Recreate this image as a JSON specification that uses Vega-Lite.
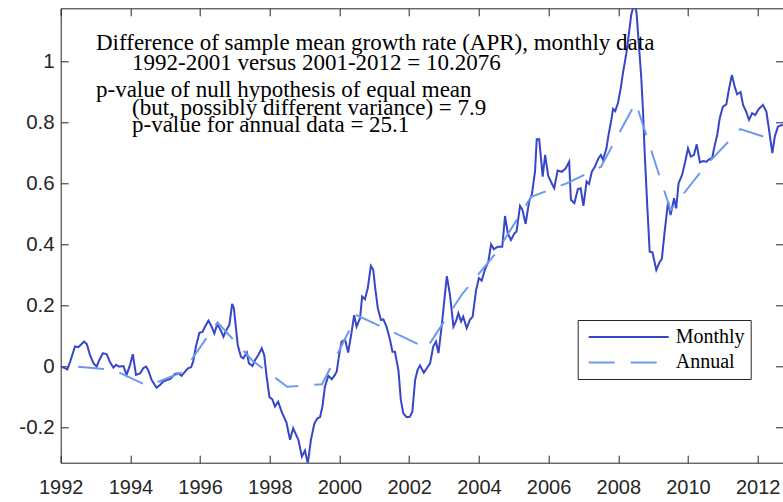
{
  "$schema": "https://vega.github.io/schema/vega-lite/v6.json",
  "width": 722.3,
  "height": 454.4,
  "autosize": {"type": "none"},
  "padding": {"left": 60.7, "top": 8.3, "right": 0, "bottom": 39.3},
  "background": "white",
  "config": {
    "view": {"stroke": null},
    "axis": {
      "grid": false,
      "title": null,
      "domainColor": "#262626",
      "tickColor": "#262626",
      "labelColor": "#262626",
      "labelFont": "Liberation Sans, Arial, sans-serif",
      "labelFontSize": 20,
      "labelFlush": false,
      "tickSize": -7.5,
      "domainWidth": 1,
      "tickWidth": 1
    }
  },
  "resolve": {"axis": {"x": "independent", "y": "independent"}},
  "layer": [
    {
      "data": {
        "values": [
          {"series": "Monthly", "year": 1992.00, "value": 0.000},
          {"series": "Monthly", "year": 1992.12, "value": -0.005},
          {"series": "Monthly", "year": 1992.19, "value": -0.009},
          {"series": "Monthly", "year": 1992.27, "value": 0.016},
          {"series": "Monthly", "year": 1992.41, "value": 0.066},
          {"series": "Monthly", "year": 1992.51, "value": 0.064},
          {"series": "Monthly", "year": 1992.57, "value": 0.071},
          {"series": "Monthly", "year": 1992.67, "value": 0.082},
          {"series": "Monthly", "year": 1992.75, "value": 0.074},
          {"series": "Monthly", "year": 1992.84, "value": 0.038},
          {"series": "Monthly", "year": 1992.94, "value": 0.011},
          {"series": "Monthly", "year": 1993.03, "value": 0.000},
          {"series": "Monthly", "year": 1993.11, "value": 0.022},
          {"series": "Monthly", "year": 1993.21, "value": 0.044},
          {"series": "Monthly", "year": 1993.32, "value": 0.041},
          {"series": "Monthly", "year": 1993.41, "value": 0.016},
          {"series": "Monthly", "year": 1993.51, "value": -0.003},
          {"series": "Monthly", "year": 1993.59, "value": 0.006},
          {"series": "Monthly", "year": 1993.68, "value": 0.000},
          {"series": "Monthly", "year": 1993.80, "value": 0.002},
          {"series": "Monthly", "year": 1993.89, "value": -0.027},
          {"series": "Monthly", "year": 1993.99, "value": 0.006},
          {"series": "Monthly", "year": 1994.07, "value": 0.041},
          {"series": "Monthly", "year": 1994.16, "value": -0.027},
          {"series": "Monthly", "year": 1994.28, "value": -0.022},
          {"series": "Monthly", "year": 1994.37, "value": -0.005},
          {"series": "Monthly", "year": 1994.45, "value": 0.000},
          {"series": "Monthly", "year": 1994.51, "value": -0.011},
          {"series": "Monthly", "year": 1994.61, "value": -0.044},
          {"series": "Monthly", "year": 1994.75, "value": -0.069},
          {"series": "Monthly", "year": 1994.85, "value": -0.060},
          {"series": "Monthly", "year": 1994.94, "value": -0.049},
          {"series": "Monthly", "year": 1995.04, "value": -0.044},
          {"series": "Monthly", "year": 1995.14, "value": -0.041},
          {"series": "Monthly", "year": 1995.28, "value": -0.024},
          {"series": "Monthly", "year": 1995.37, "value": -0.022},
          {"series": "Monthly", "year": 1995.47, "value": -0.030},
          {"series": "Monthly", "year": 1995.57, "value": -0.016},
          {"series": "Monthly", "year": 1995.66, "value": -0.005},
          {"series": "Monthly", "year": 1995.74, "value": -0.002},
          {"series": "Monthly", "year": 1995.80, "value": 0.016},
          {"series": "Monthly", "year": 1995.88, "value": 0.066},
          {"series": "Monthly", "year": 1995.98, "value": 0.111},
          {"series": "Monthly", "year": 1996.07, "value": 0.114},
          {"series": "Monthly", "year": 1996.14, "value": 0.131},
          {"series": "Monthly", "year": 1996.24, "value": 0.151},
          {"series": "Monthly", "year": 1996.33, "value": 0.131},
          {"series": "Monthly", "year": 1996.41, "value": 0.109},
          {"series": "Monthly", "year": 1996.49, "value": 0.139},
          {"series": "Monthly", "year": 1996.59, "value": 0.120},
          {"series": "Monthly", "year": 1996.67, "value": 0.098},
          {"series": "Monthly", "year": 1996.73, "value": 0.115},
          {"series": "Monthly", "year": 1996.84, "value": 0.137},
          {"series": "Monthly", "year": 1996.92, "value": 0.206},
          {"series": "Monthly", "year": 1996.97, "value": 0.191},
          {"series": "Monthly", "year": 1997.08, "value": 0.071},
          {"series": "Monthly", "year": 1997.17, "value": 0.033},
          {"series": "Monthly", "year": 1997.24, "value": 0.027},
          {"series": "Monthly", "year": 1997.34, "value": 0.046},
          {"series": "Monthly", "year": 1997.40, "value": 0.011},
          {"series": "Monthly", "year": 1997.50, "value": 0.002},
          {"series": "Monthly", "year": 1997.58, "value": 0.022},
          {"series": "Monthly", "year": 1997.67, "value": 0.038},
          {"series": "Monthly", "year": 1997.77, "value": 0.060},
          {"series": "Monthly", "year": 1997.84, "value": 0.038},
          {"series": "Monthly", "year": 1997.91, "value": -0.033},
          {"series": "Monthly", "year": 1997.99, "value": -0.100},
          {"series": "Monthly", "year": 1998.07, "value": -0.107},
          {"series": "Monthly", "year": 1998.15, "value": -0.131},
          {"series": "Monthly", "year": 1998.24, "value": -0.115},
          {"series": "Monthly", "year": 1998.34, "value": -0.148},
          {"series": "Monthly", "year": 1998.48, "value": -0.184},
          {"series": "Monthly", "year": 1998.58, "value": -0.240},
          {"series": "Monthly", "year": 1998.67, "value": -0.202},
          {"series": "Monthly", "year": 1998.82, "value": -0.240},
          {"series": "Monthly", "year": 1998.92, "value": -0.295},
          {"series": "Monthly", "year": 1999.01, "value": -0.275},
          {"series": "Monthly", "year": 1999.09, "value": -0.318},
          {"series": "Monthly", "year": 1999.18, "value": -0.240},
          {"series": "Monthly", "year": 1999.28, "value": -0.186},
          {"series": "Monthly", "year": 1999.37, "value": -0.169},
          {"series": "Monthly", "year": 1999.44, "value": -0.166},
          {"series": "Monthly", "year": 1999.51, "value": -0.131},
          {"series": "Monthly", "year": 1999.58, "value": -0.066},
          {"series": "Monthly", "year": 1999.68, "value": -0.030},
          {"series": "Monthly", "year": 1999.78, "value": -0.041},
          {"series": "Monthly", "year": 1999.87, "value": -0.027},
          {"series": "Monthly", "year": 1999.92, "value": -0.016},
          {"series": "Monthly", "year": 1999.99, "value": 0.038},
          {"series": "Monthly", "year": 2000.06, "value": 0.082},
          {"series": "Monthly", "year": 2000.16, "value": 0.088},
          {"series": "Monthly", "year": 2000.25, "value": 0.046},
          {"series": "Monthly", "year": 2000.35, "value": 0.115},
          {"series": "Monthly", "year": 2000.42, "value": 0.169},
          {"series": "Monthly", "year": 2000.49, "value": 0.131},
          {"series": "Monthly", "year": 2000.59, "value": 0.159},
          {"series": "Monthly", "year": 2000.65, "value": 0.230},
          {"series": "Monthly", "year": 2000.73, "value": 0.221},
          {"series": "Monthly", "year": 2000.81, "value": 0.257},
          {"series": "Monthly", "year": 2000.90, "value": 0.330},
          {"series": "Monthly", "year": 2000.97, "value": 0.317},
          {"series": "Monthly", "year": 2001.02, "value": 0.262},
          {"series": "Monthly", "year": 2001.10, "value": 0.191},
          {"series": "Monthly", "year": 2001.19, "value": 0.153},
          {"series": "Monthly", "year": 2001.26, "value": 0.155},
          {"series": "Monthly", "year": 2001.35, "value": 0.131},
          {"series": "Monthly", "year": 2001.45, "value": 0.088},
          {"series": "Monthly", "year": 2001.52, "value": 0.049},
          {"series": "Monthly", "year": 2001.59, "value": 0.049},
          {"series": "Monthly", "year": 2001.69, "value": -0.011},
          {"series": "Monthly", "year": 2001.76, "value": -0.109},
          {"series": "Monthly", "year": 2001.83, "value": -0.153},
          {"series": "Monthly", "year": 2001.93, "value": -0.166},
          {"series": "Monthly", "year": 2002.02, "value": -0.164},
          {"series": "Monthly", "year": 2002.09, "value": -0.148},
          {"series": "Monthly", "year": 2002.17, "value": -0.044},
          {"series": "Monthly", "year": 2002.24, "value": -0.011},
          {"series": "Monthly", "year": 2002.31, "value": 0.004},
          {"series": "Monthly", "year": 2002.42, "value": -0.020},
          {"series": "Monthly", "year": 2002.60, "value": 0.011},
          {"series": "Monthly", "year": 2002.69, "value": 0.066},
          {"series": "Monthly", "year": 2002.77, "value": 0.082},
          {"series": "Monthly", "year": 2002.84, "value": 0.044},
          {"series": "Monthly", "year": 2002.93, "value": 0.131},
          {"series": "Monthly", "year": 2003.08, "value": 0.297},
          {"series": "Monthly", "year": 2003.17, "value": 0.235},
          {"series": "Monthly", "year": 2003.27, "value": 0.131},
          {"series": "Monthly", "year": 2003.34, "value": 0.148},
          {"series": "Monthly", "year": 2003.41, "value": 0.175},
          {"series": "Monthly", "year": 2003.49, "value": 0.148},
          {"series": "Monthly", "year": 2003.55, "value": 0.164},
          {"series": "Monthly", "year": 2003.65, "value": 0.126},
          {"series": "Monthly", "year": 2003.74, "value": 0.153},
          {"series": "Monthly", "year": 2003.82, "value": 0.164},
          {"series": "Monthly", "year": 2003.92, "value": 0.251},
          {"series": "Monthly", "year": 2004.00, "value": 0.290},
          {"series": "Monthly", "year": 2004.08, "value": 0.282},
          {"series": "Monthly", "year": 2004.17, "value": 0.317},
          {"series": "Monthly", "year": 2004.27, "value": 0.344},
          {"series": "Monthly", "year": 2004.35, "value": 0.401},
          {"series": "Monthly", "year": 2004.43, "value": 0.385},
          {"series": "Monthly", "year": 2004.54, "value": 0.393},
          {"series": "Monthly", "year": 2004.67, "value": 0.393},
          {"series": "Monthly", "year": 2004.75, "value": 0.494},
          {"series": "Monthly", "year": 2004.83, "value": 0.437},
          {"series": "Monthly", "year": 2004.92, "value": 0.415},
          {"series": "Monthly", "year": 2005.02, "value": 0.437},
          {"series": "Monthly", "year": 2005.08, "value": 0.443},
          {"series": "Monthly", "year": 2005.18, "value": 0.527},
          {"series": "Monthly", "year": 2005.25, "value": 0.514},
          {"series": "Monthly", "year": 2005.34, "value": 0.468},
          {"series": "Monthly", "year": 2005.44, "value": 0.541},
          {"series": "Monthly", "year": 2005.52, "value": 0.565},
          {"series": "Monthly", "year": 2005.61, "value": 0.639},
          {"series": "Monthly", "year": 2005.66, "value": 0.746},
          {"series": "Monthly", "year": 2005.73, "value": 0.746},
          {"series": "Monthly", "year": 2005.83, "value": 0.623},
          {"series": "Monthly", "year": 2005.90, "value": 0.694},
          {"series": "Monthly", "year": 2005.99, "value": 0.625},
          {"series": "Monthly", "year": 2006.09, "value": 0.601},
          {"series": "Monthly", "year": 2006.16, "value": 0.585},
          {"series": "Monthly", "year": 2006.26, "value": 0.643},
          {"series": "Monthly", "year": 2006.38, "value": 0.639},
          {"series": "Monthly", "year": 2006.49, "value": 0.650},
          {"series": "Monthly", "year": 2006.59, "value": 0.672},
          {"series": "Monthly", "year": 2006.64, "value": 0.547},
          {"series": "Monthly", "year": 2006.74, "value": 0.536},
          {"series": "Monthly", "year": 2006.84, "value": 0.582},
          {"series": "Monthly", "year": 2006.92, "value": 0.585},
          {"series": "Monthly", "year": 2007.00, "value": 0.527},
          {"series": "Monthly", "year": 2007.09, "value": 0.607},
          {"series": "Monthly", "year": 2007.16, "value": 0.599},
          {"series": "Monthly", "year": 2007.24, "value": 0.639},
          {"series": "Monthly", "year": 2007.33, "value": 0.656},
          {"series": "Monthly", "year": 2007.43, "value": 0.683},
          {"series": "Monthly", "year": 2007.50, "value": 0.694},
          {"series": "Monthly", "year": 2007.56, "value": 0.678},
          {"series": "Monthly", "year": 2007.66, "value": 0.716},
          {"series": "Monthly", "year": 2007.72, "value": 0.760},
          {"series": "Monthly", "year": 2007.80, "value": 0.809},
          {"series": "Monthly", "year": 2007.85, "value": 0.845},
          {"series": "Monthly", "year": 2007.91, "value": 0.838},
          {"series": "Monthly", "year": 2007.99, "value": 0.864},
          {"series": "Monthly", "year": 2008.07, "value": 0.913},
          {"series": "Monthly", "year": 2008.14, "value": 0.967},
          {"series": "Monthly", "year": 2008.23, "value": 1.027},
          {"series": "Monthly", "year": 2008.30, "value": 1.088},
          {"series": "Monthly", "year": 2008.37, "value": 1.153},
          {"series": "Monthly", "year": 2008.45, "value": 1.190},
          {"series": "Monthly", "year": 2008.52, "value": 1.164},
          {"series": "Monthly", "year": 2008.57, "value": 1.088},
          {"series": "Monthly", "year": 2008.66, "value": 0.946},
          {"series": "Monthly", "year": 2008.71, "value": 0.836},
          {"series": "Monthly", "year": 2008.76, "value": 0.694},
          {"series": "Monthly", "year": 2008.83, "value": 0.530},
          {"series": "Monthly", "year": 2008.90, "value": 0.377},
          {"series": "Monthly", "year": 2008.98, "value": 0.375},
          {"series": "Monthly", "year": 2009.09, "value": 0.317},
          {"series": "Monthly", "year": 2009.19, "value": 0.344},
          {"series": "Monthly", "year": 2009.25, "value": 0.353},
          {"series": "Monthly", "year": 2009.33, "value": 0.443},
          {"series": "Monthly", "year": 2009.43, "value": 0.541},
          {"series": "Monthly", "year": 2009.50, "value": 0.497},
          {"series": "Monthly", "year": 2009.60, "value": 0.552},
          {"series": "Monthly", "year": 2009.66, "value": 0.519},
          {"series": "Monthly", "year": 2009.73, "value": 0.601},
          {"series": "Monthly", "year": 2009.83, "value": 0.629},
          {"series": "Monthly", "year": 2009.92, "value": 0.672},
          {"series": "Monthly", "year": 2010.00, "value": 0.716},
          {"series": "Monthly", "year": 2010.08, "value": 0.689},
          {"series": "Monthly", "year": 2010.17, "value": 0.694},
          {"series": "Monthly", "year": 2010.25, "value": 0.729},
          {"series": "Monthly", "year": 2010.34, "value": 0.670},
          {"series": "Monthly", "year": 2010.43, "value": 0.674},
          {"series": "Monthly", "year": 2010.53, "value": 0.672},
          {"series": "Monthly", "year": 2010.62, "value": 0.681},
          {"series": "Monthly", "year": 2010.69, "value": 0.683},
          {"series": "Monthly", "year": 2010.77, "value": 0.727},
          {"series": "Monthly", "year": 2010.84, "value": 0.760},
          {"series": "Monthly", "year": 2010.91, "value": 0.814},
          {"series": "Monthly", "year": 2011.00, "value": 0.852},
          {"series": "Monthly", "year": 2011.10, "value": 0.860},
          {"series": "Monthly", "year": 2011.18, "value": 0.913},
          {"series": "Monthly", "year": 2011.26, "value": 0.956},
          {"series": "Monthly", "year": 2011.34, "value": 0.918},
          {"series": "Monthly", "year": 2011.41, "value": 0.893},
          {"series": "Monthly", "year": 2011.51, "value": 0.900},
          {"series": "Monthly", "year": 2011.58, "value": 0.858},
          {"series": "Monthly", "year": 2011.67, "value": 0.836},
          {"series": "Monthly", "year": 2011.75, "value": 0.809},
          {"series": "Monthly", "year": 2011.84, "value": 0.831},
          {"series": "Monthly", "year": 2011.93, "value": 0.825},
          {"series": "Monthly", "year": 2012.03, "value": 0.845},
          {"series": "Monthly", "year": 2012.15, "value": 0.858},
          {"series": "Monthly", "year": 2012.25, "value": 0.836},
          {"series": "Monthly", "year": 2012.34, "value": 0.765},
          {"series": "Monthly", "year": 2012.42, "value": 0.700},
          {"series": "Monthly", "year": 2012.49, "value": 0.754},
          {"series": "Monthly", "year": 2012.58, "value": 0.787},
          {"series": "Monthly", "year": 2012.68, "value": 0.792},
          {"series": "Monthly", "year": 2012.80, "value": 0.790},
          {"series": "Annual", "year": 1992.5, "value": 0.000},
          {"series": "Annual", "year": 1993.5, "value": -0.010},
          {"series": "Annual", "year": 1994.5, "value": -0.063},
          {"series": "Annual", "year": 1995.5, "value": -0.018},
          {"series": "Annual", "year": 1996.5, "value": 0.145},
          {"series": "Annual", "year": 1997.5, "value": 0.020},
          {"series": "Annual", "year": 1998.5, "value": -0.066},
          {"series": "Annual", "year": 1999.5, "value": -0.058},
          {"series": "Annual", "year": 2000.5, "value": 0.168},
          {"series": "Annual", "year": 2001.5, "value": 0.115},
          {"series": "Annual", "year": 2002.5, "value": 0.060},
          {"series": "Annual", "year": 2003.5, "value": 0.235},
          {"series": "Annual", "year": 2004.5, "value": 0.374},
          {"series": "Annual", "year": 2005.5, "value": 0.557},
          {"series": "Annual", "year": 2006.5, "value": 0.600},
          {"series": "Annual", "year": 2007.5, "value": 0.655},
          {"series": "Annual", "year": 2008.5, "value": 0.866},
          {"series": "Annual", "year": 2009.5, "value": 0.513},
          {"series": "Annual", "year": 2010.5, "value": 0.658},
          {"series": "Annual", "year": 2011.5, "value": 0.779},
          {"series": "Annual", "year": 2012.5, "value": 0.742}
        ]
      },
      "mark": {"type": "line", "clip": true, "strokeWidth": 2},
      "encoding": {
        "x": {
          "field": "year",
          "type": "quantitative",
          "scale": {"domain": [1992, 2012.726], "nice": false, "zero": false},
          "axis": {
            "orient": "bottom",
            "values": [1992, 1994, 1996, 1998, 2000, 2002, 2004, 2006, 2008, 2010, 2012],
            "format": "d",
            "labelPadding": 22.6
          }
        },
        "y": {
          "field": "value",
          "type": "quantitative",
          "scale": {"domain": [-0.315, 1.175], "nice": false, "zero": false},
          "axis": {
            "orient": "left",
            "values": [-0.2, 0, 0.2, 0.4, 0.6, 0.8, 1],
            "format": "~g",
            "labelExpr": "replace(datum.label, '\u2212', '-')",
            "labelFontSize": 20.5,
            "labelPadding": 14
          }
        },
        "color": {
          "field": "series",
          "type": "nominal",
          "scale": {"domain": ["Monthly", "Annual"], "range": ["#3546c8", "#6e98f0"]},
          "legend": {
            "title": null,
            "orient": "none",
            "legendX": 517,
            "legendY": 311.7,
            "symbolType": "M-0.6,0H7.4",
            "symbolSize": 400,
            "symbolStrokeWidth": 2,
            "labelFont": "Liberation Serif, Times New Roman, DejaVu Serif, serif",
            "labelFontSize": 20,
            "labelColor": "black",
            "labelOffset": 70,
            "padding": 6,
            "rowPadding": 4.4,
            "strokeColor": "#262626",
            "fillColor": "white"
          }
        },
        "strokeDash": {
          "field": "series",
          "type": "nominal",
          "scale": {"domain": ["Monthly", "Annual"], "range": [[1, 0], [26, 16]]},
          "legend": {
            "title": null,
            "orient": "none",
            "legendX": 517,
            "legendY": 311.7,
            "symbolType": "M-0.6,0H7.4",
            "symbolSize": 400,
            "symbolStrokeWidth": 2,
            "labelFont": "Liberation Serif, Times New Roman, DejaVu Serif, serif",
            "labelFontSize": 20,
            "labelColor": "black",
            "labelOffset": 70,
            "padding": 6,
            "rowPadding": 4.4,
            "strokeColor": "#262626",
            "fillColor": "white"
          }
        }
      }
    },
    {
      "data": {
        "values": [
          {"year": 1993.013, "value": 1.037, "label": "Difference of sample mean growth rate (APR), monthly data"},
          {"year": 1994.046, "value": 0.973, "label": "1992-2001 versus 2001-2012 = 10.2076"},
          {"year": 1993.013, "value": 0.885, "label": "p-value of null hypothesis of equal mean"},
          {"year": 1994.046, "value": 0.825, "label": "(but, possibly different variance) = 7.9"},
          {"year": 1994.046, "value": 0.770, "label": "p-value for annual data = 25.1"}
        ]
      },
      "mark": {
        "type": "text",
        "align": "left",
        "baseline": "alphabetic",
        "font": "Liberation Serif, Times New Roman, DejaVu Serif, serif",
        "fontSize": 23,
        "color": "black"
      },
      "encoding": {
        "x": {
          "field": "year",
          "type": "quantitative",
          "axis": {
            "orient": "top",
            "labels": false,
            "values": [1992, 1994, 1996, 1998, 2000, 2002, 2004, 2006, 2008, 2010, 2012]
          }
        },
        "y": {
          "field": "value",
          "type": "quantitative",
          "axis": {
            "orient": "right",
            "labels": false,
            "domain": false,
            "values": [-0.2, 0, 0.2, 0.4, 0.6, 0.8, 1]
          }
        },
        "text": {"field": "label"}
      }
    }
  ]
}
